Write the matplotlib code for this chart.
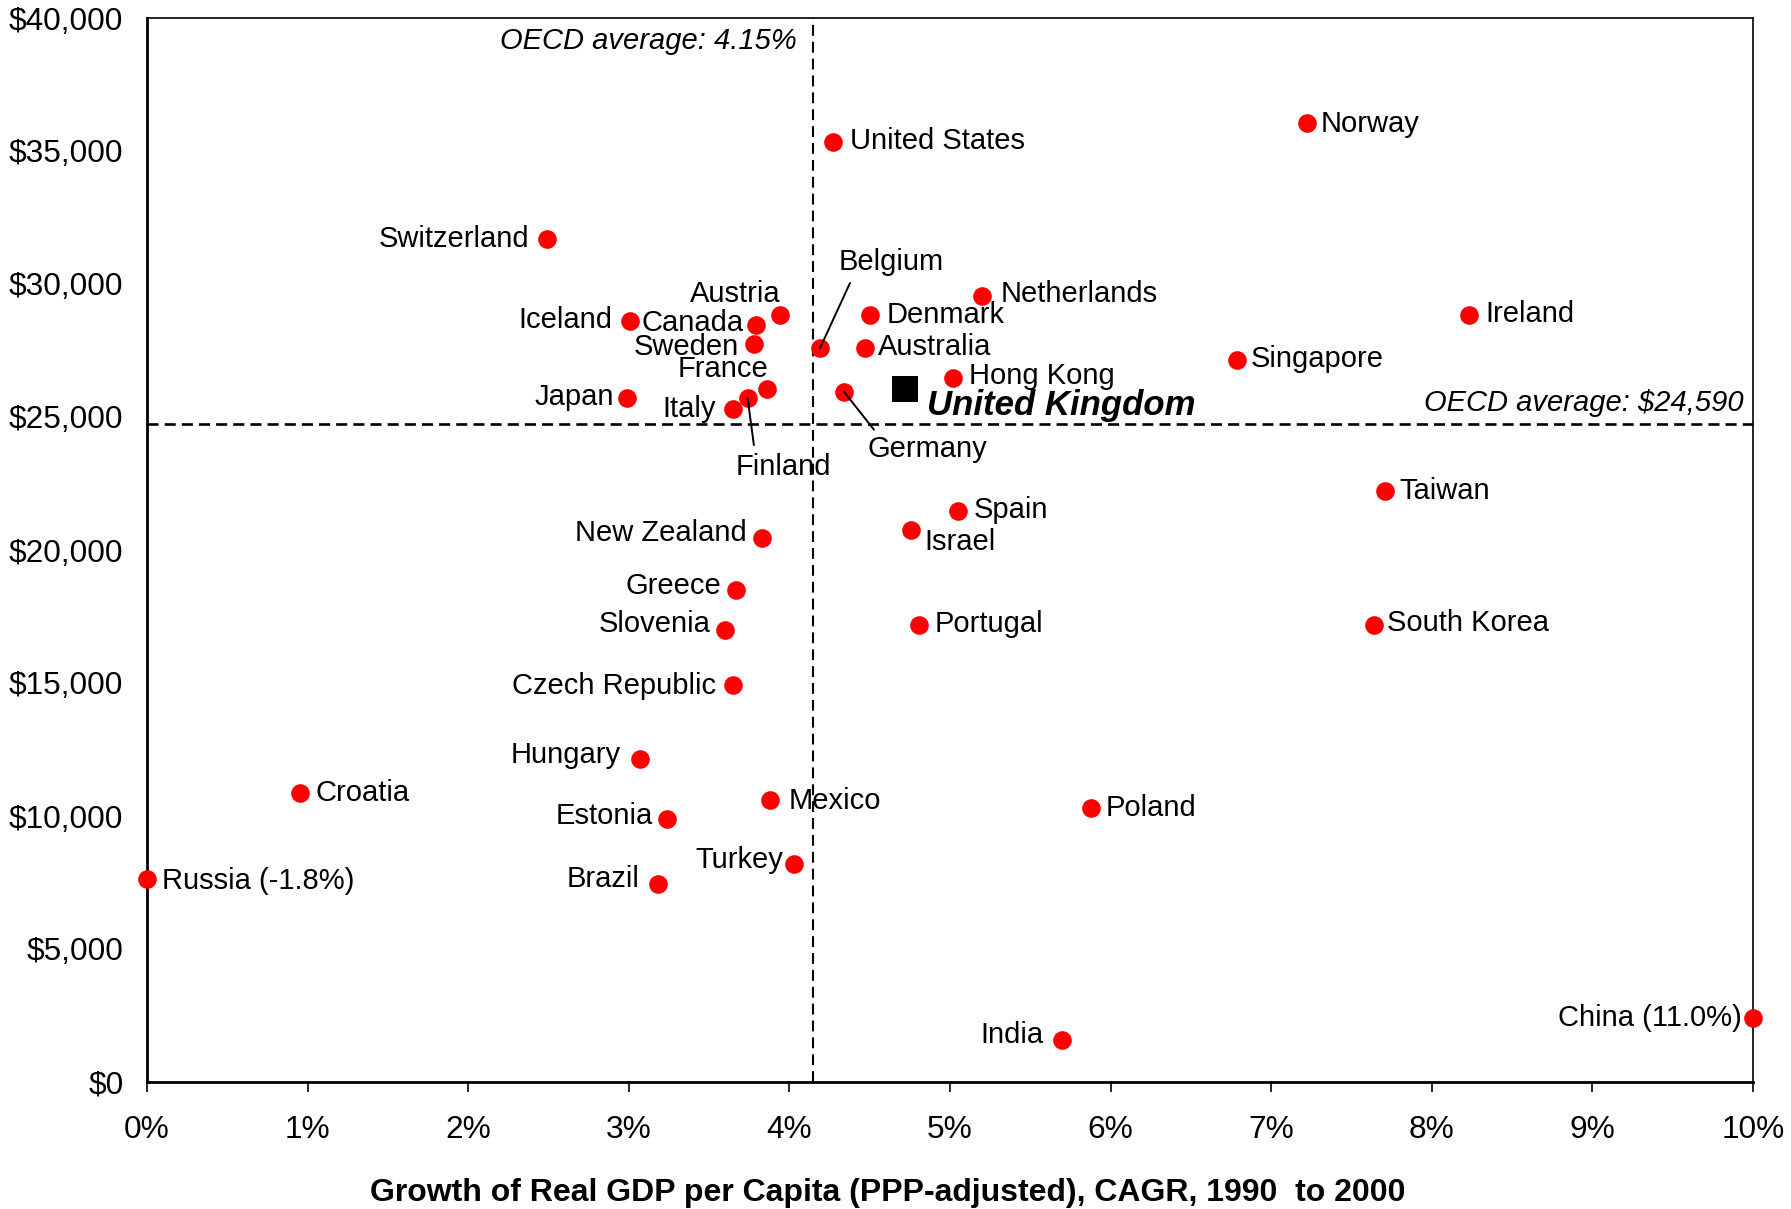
import numpy as np
import matplotlib
matplotlib.use("Agg")
import matplotlib.pyplot as plt

plt.rcParams["font.family"] = ["Liberation Sans", "DejaVu Sans"]

# ---------------- data ----------------
countries = ["Russia", "Croatia", "Switzerland", "Iceland", "Japan", "Canada",
             "Austria", "Sweden", "France", "Finland", "Italy", "Belgium",
             "Germany", "Denmark", "Australia", "Netherlands", "Hong Kong",
             "United States", "Norway", "Ireland", "Singapore", "Taiwan",
             "South Korea", "Spain", "Israel", "Portugal", "New Zealand",
             "Greece", "Slovenia", "Czech Republic", "Hungary", "Mexico",
             "Estonia", "Turkey", "Brazil", "Poland", "India", "China"]
growth = [-1.8, 0.95, 2.49, 3.01, 2.99, 3.79,
          3.94, 3.78, 3.86, 3.74, 3.65, 4.19,
          4.34, 4.50, 4.47, 5.20, 5.02,
          4.27, 7.22, 8.23, 6.79, 7.71,
          7.64, 5.05, 4.76, 4.81, 3.83,
          3.67, 3.60, 3.65, 3.07, 3.88,
          3.24, 4.03, 3.18, 5.88, 5.70, 11.0]
gdp = [7650, 10870, 31700, 28620, 25700, 28450,
       28830, 27760, 26040, 25700, 25300, 27580,
       25950, 28830, 27580, 29560, 26470,
       35320, 36050, 28830, 27150, 22210,
       17190, 21480, 20750, 17190, 20450,
       18480, 17010, 14910, 12160, 10610,
       9880, 8210, 7430, 10310, 1590, 2410]
label_text = {"Russia": "Russia (-1.8%)", "China": "China (11.0%)"}

uk_name = "United Kingdom"
uk_growth = 4.72
uk_gdp = 26040

oecd_growth = 4.15
oecd_gdp_line = 24750          # where the dashed line sits in the picture
oecd_growth_text = "OECD average: 4.15%"
oecd_gdp_text = "OECD average: $24,590"

x_min, x_max = 0, 10
y_min, y_max = 0, 40000
xticks = list(range(0, 11))
xtick_labels = [f"{v}%" for v in xticks]
yticks = list(range(0, 40001, 5000))
ytick_labels = [f"${v:,}" for v in yticks]
xlabel = "Growth of Real GDP per Capita (PPP-adjusted), CAGR, 1990  to 2000"

# label placement (pixel offsets from the point, alignment)
offsets = {
    "Russia": (15, -2, "left"), "Croatia": (16, 0, "left"),
    "Switzerland": (-18, 0, "right"), "Iceland": (-18, 1, "right"),
    "Japan": (-13, 1, "right"), "Canada": (-12, 2, "right"),
    "Austria": (1, 21, "right"), "Sweden": (-15, -3, "right"),
    "France": (1, 20, "right"), "Italy": (-17, 0, "right"),
    "Denmark": (17, 0, "left"), "Australia": (13, 1, "left"),
    "Netherlands": (19, 2, "left"), "Hong Kong": (16, 2, "left"),
    "United States": (17, 1, "left"), "Norway": (14, -1, "left"),
    "Ireland": (17, 1, "left"), "Singapore": (13, 1, "left"),
    "Taiwan": (14, 0, "left"), "South Korea": (13, 2, "left"),
    "Spain": (16, 1, "left"), "Israel": (13, -12, "left"),
    "Portugal": (15, 1, "left"), "New Zealand": (-15, 5, "right"),
    "Greece": (-15, 4, "right"), "Slovenia": (-15, 6, "right"),
    "Czech Republic": (-17, -1, "right"), "Hungary": (-19, 4, "right"),
    "Mexico": (18, -1, "left"), "Estonia": (-14, 3, "right"),
    "Turkey": (-11, 4, "right"), "Brazil": (-18, 5, "right"),
    "Poland": (14, 0, "left"), "India": (-19, 5, "right"),
    "China": (-11, 0, "right"),
}
# labels with leader lines: (dx, dy, relpos, shrinkA)
leaders = {
    "Belgium": (71, 86, (0.14, 0.0), 3),
    "Finland": (36, -69, (0.2, 1.0), 4),
    "Germany": (83, -57, (0.09, 1.0), 2),
}

# ---------------- figure ----------------
W, H = 1791, 1209
fig = plt.figure(figsize=(W / 100, H / 100), dpi=100)
ax = fig.add_axes([147 / W, 1 - 1082 / H, (1753 - 147) / W, (1082 - 18) / H])
ax.set_xlim(x_min, x_max)
ax.set_ylim(y_min, y_max)

px = np.clip(np.array(growth), x_min, x_max)
py = np.array(gdp)

FS = 21
TFS = 22.8
# reference lines
ax.axvline(oecd_growth, color="black", lw=1.5, dashes=(5.2, 2.9), zorder=1)
ax.axhline(oecd_gdp_line, color="black", lw=1.9, dashes=(4.2, 2.3), zorder=1)
ax.annotate(oecd_growth_text, xy=(oecd_growth, y_max), xytext=(-17, -23),
            textcoords="offset pixels", ha="right", va="center",
            fontsize=21, style="italic", zorder=4)
ax.annotate(oecd_gdp_text, xy=(x_max, oecd_gdp_line), xytext=(-9, 21),
            textcoords="offset pixels", ha="right", va="center",
            fontsize=21, style="italic", zorder=4)

ax.scatter(px, py, s=180, color="#ff0000", linewidths=0, zorder=3, clip_on=False)
ax.scatter([uk_growth], [uk_gdp], s=350, marker="s", color="black",
           linewidths=0, zorder=3)

for name, x, y in zip(countries, px, py):
    txt = label_text.get(name, name)
    if name in leaders:
        dx, dy, rp, sa = leaders[name]
        ax.annotate(txt, xy=(x, y), xytext=(dx, dy), textcoords="offset pixels",
                    ha="center", va="center", fontsize=FS, zorder=4,
                    arrowprops=dict(arrowstyle="-", color="black", lw=1.4,
                                    relpos=rp, shrinkA=sa, shrinkB=0))
    else:
        dx, dy, ha = offsets[name]
        ax.annotate(txt, xy=(x, y), xytext=(dx, dy), textcoords="offset pixels",
                    ha=ha, va="center", fontsize=FS, zorder=4)

ax.annotate(uk_name, xy=(uk_growth, uk_gdp), xytext=(22, -16),
            textcoords="offset pixels", ha="left", va="center",
            fontsize=25, fontweight="bold", style="italic", zorder=4)

# axes styling
ax.set_xticks(xticks)
ax.set_xticklabels(xtick_labels)
ax.set_yticks(yticks)
ax.set_yticklabels(ytick_labels)
ax.tick_params(axis="x", direction="out", length=7.5, width=1.2, pad=16,
               labelsize=TFS)
ax.tick_params(axis="y", length=0, pad=17, labelsize=TFS)
for s in ["left", "bottom"]:
    ax.spines[s].set_linewidth(2.0)
for s in ["top", "right"]:
    ax.spines[s].set_linewidth(1.2)

ax.set_xlabel(xlabel, fontsize=23, fontweight="bold")
ax.xaxis.set_label_coords((888 - 147) / (1753 - 147), -(1193 - 1082) / (1082 - 18))
ax.xaxis.label.set_va("center")

fig.savefig("out.png", dpi=100)
